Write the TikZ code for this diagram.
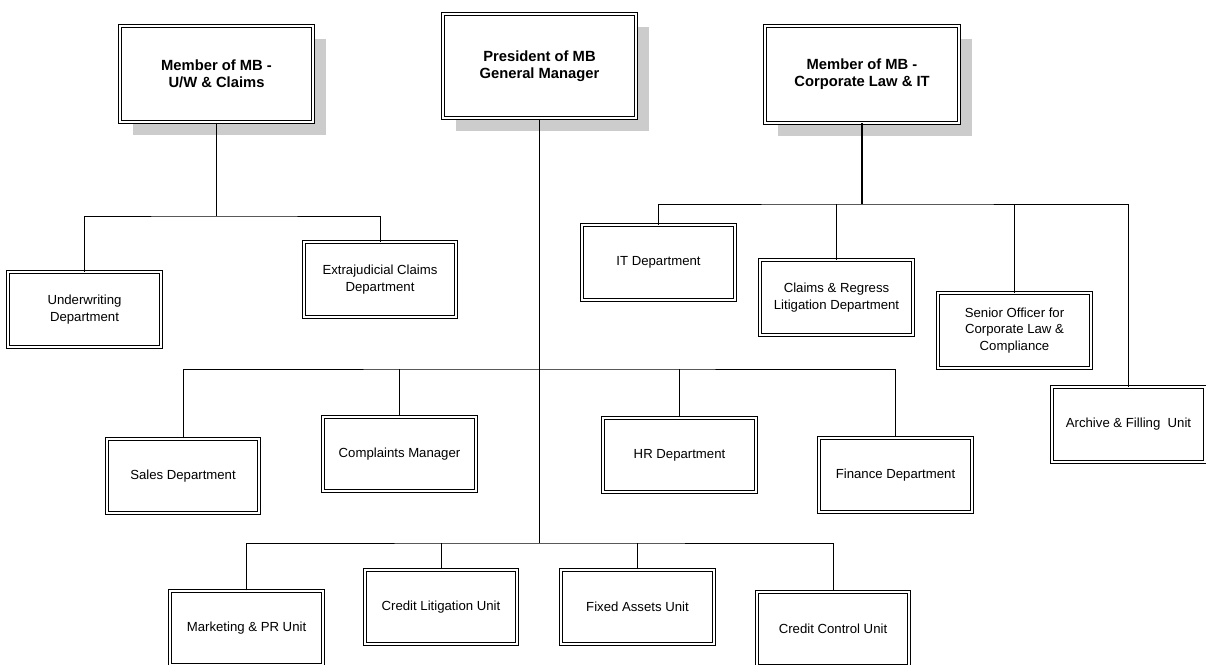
\documentclass[tikz,border=0pt]{standalone}
\usepackage{fontspec}
\setmainfont{Liberation Sans}
\usetikzlibrary{shadows}
\tikzset{
  unitbox/.style={draw, double, line width=0.5pt, double distance=1.15pt, fill=white,
    minimum width=3.05cm, minimum height=1.49cm, inner sep=0pt, align=center,
    font=\fontsize{7.5}{9.5}\selectfont},
  headbox/.style={unitbox, minimum width=3.87cm, minimum height=1.93cm,
    font=\fontsize{8.4}{9.8}\selectfont\bfseries,
    drop shadow={shadow xshift=0.26cm, shadow yshift=-0.26cm, fill=gray!40, opacity=1}},
  trunk/.style={line width=0.9pt},
  branch/.style={line width=0.55pt}
}
\begin{document}
\begin{tikzpicture}[x=0.02cm, y=-0.02cm]
    \useasboundingbox (0,0) rectangle (1206,665);

    % board members
    \node [headbox] (uw) at (216.5,74) {Member of MB -\\U/W \& Claims};
    \node [headbox, minimum height=2.09cm] (pres) at (539.5,66) {President of MB\\General Manager};
    \node [headbox] (corp) at (862,74.5) {Member of MB -\\Corporate Law \& IT};

    % bus points
    \coordinate (uwbus) at (216.5,216);
    \coordinate (corpbus) at (862,204);
    \coordinate (presmid) at (539.5,369);
    \coordinate (presbot) at (539.5,543);

    % U/W & Claims
    \node [unitbox] (uwdep) at (84.5,309.5) {Underwriting\\Department};
    \node [unitbox] (extra) at (380,279.5) {Extrajudicial Claims\\Department};

    % Corporate Law & IT
    \node [unitbox] (itdep) at (658.5,262.5) {IT Department};
    \node [unitbox] (claims) at (836.5,297.5) {Claims \& Regress\\Litigation Department};
    \node [unitbox] (senior) at (1014.5,330.5) {Senior Officer for\\Corporate Law \&\\Compliance};
    \node [unitbox] (archive) at (1128.5,424.5) {Archive \& Filling\ \ Unit};

    % President
    \node [unitbox] (sales) at (183,476) {Sales Department};
    \node [unitbox] (compl) at (399.5,454) {Complaints Manager};
    \node [unitbox] (hr) at (679.5,455) {HR Department};
    \node [unitbox] (fin) at (895.5,475) {Finance Department};
    \node [unitbox] (mkt) at (246.5,628) {Marketing \& PR Unit};
    \node [unitbox] (credlit) at (441,607) {Credit Litigation Unit};
    \node [unitbox] (fixed) at (637.5,607) {Fixed Assets Unit};
    \node [unitbox] (credctl) at (833,629) {Credit Control Unit};

    % connectors
    \draw [trunk] (uw.south) -- (uwbus);
    \draw [branch] (uwdep.north) |- (uwbus) -| (extra.north);

    \draw [trunk] (corp.south) -- (corpbus);
    \draw [branch] (itdep.north) |- (corpbus) -| (archive.north);
    \draw [branch] (claims.north) -- (claims.north |- corpbus);
    \draw [branch] (senior.north) -- (senior.north |- corpbus);

    \draw [branch] (pres.south) -- (presbot);
    \draw [branch] (sales.north) |- (presmid) -| (fin.north);
    \draw [branch] (compl.north) -- (compl.north |- presmid);
    \draw [branch] (hr.north) -- (hr.north |- presmid);
    \draw [branch] (mkt.north) |- (presbot) -| (credctl.north);
    \draw [branch] (credlit.north) -- (credlit.north |- presbot);
    \draw [branch] (fixed.north) -- (fixed.north |- presbot);
\end{tikzpicture}
\end{document}
